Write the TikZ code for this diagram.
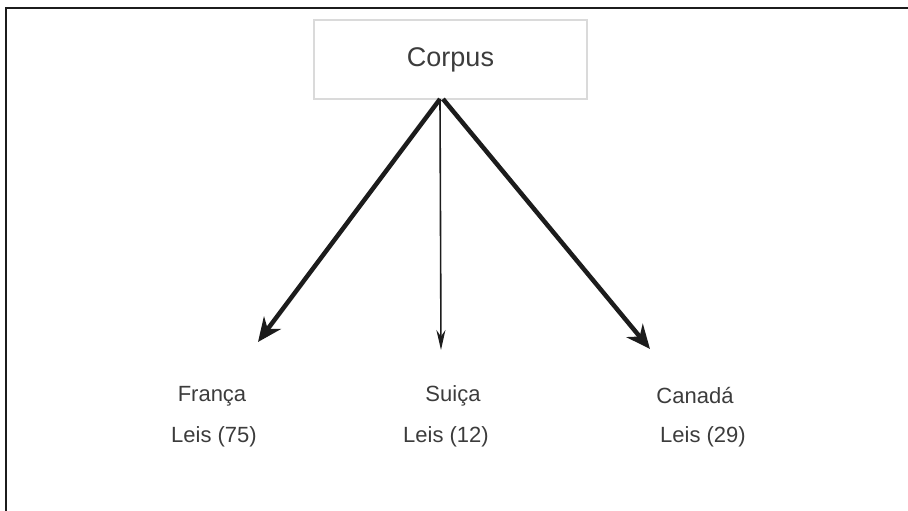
\documentclass[tikz,border=0pt]{standalone}
\usepackage{fontspec}
\setmainfont{Liberation Sans}
\usetikzlibrary{arrows.meta}
\definecolor{txt}{HTML}{3C3C3C}
\definecolor{ink}{HTML}{1C1C1C}
\definecolor{boxc}{HTML}{DADADA}
\tikzset{
  lbl/.style={text=txt, font=\fontsize{22}{25}\selectfont, inner sep=0pt},
  thickarrow/.style={draw=ink, line width=4.5pt, -{Stealth[length=24pt,width=21pt]}},
  thinarrow/.style={draw=ink, line width=1.6pt, -{Stealth[length=20pt,width=9pt]}},
  frameline/.style={draw=ink, line width=2pt}
}
\begin{document}
\begin{tikzpicture}[x=1pt,y=1pt]
\useasboundingbox (0,0) rectangle (908,511);
% frame
\coordinate (f1) at (6,0);
\coordinate (f2) at (6,503);
\coordinate (f3) at (908,503);
\draw[frameline] (f1) -- (f2) -- (f3);
% corpus box
\node[draw=boxc, line width=1.5pt, minimum width=273pt, minimum height=79pt, inner sep=0pt,
      text=txt, font=\fontsize{27}{31}\selectfont] (corpus) at (450.5,451.5) {Corpus};
\coordinate (src) at (440,412);
\coordinate (tl) at (258,169);
\coordinate (tm) at (441,161);
\coordinate (tr) at (650,162);
\draw[thickarrow] (src) -- (tl);
\draw[thinarrow] (src) -- (tm);
\draw[thickarrow] ([xshift=3pt]src) -- (tr);
% labels
\node[lbl] (fr) at (212,115) {França};
\node[lbl] (frl) at (214,74) {Leis (75)};
\node[lbl] (su) at (453,115) {Suiça};
\node[lbl] (sul) at (446,74) {Leis (12)};
\node[lbl] (ca) at (695,115) {Canadá};
\node[lbl] (cal) at (703,74) {Leis (29)};
\end{tikzpicture}
\end{document}
